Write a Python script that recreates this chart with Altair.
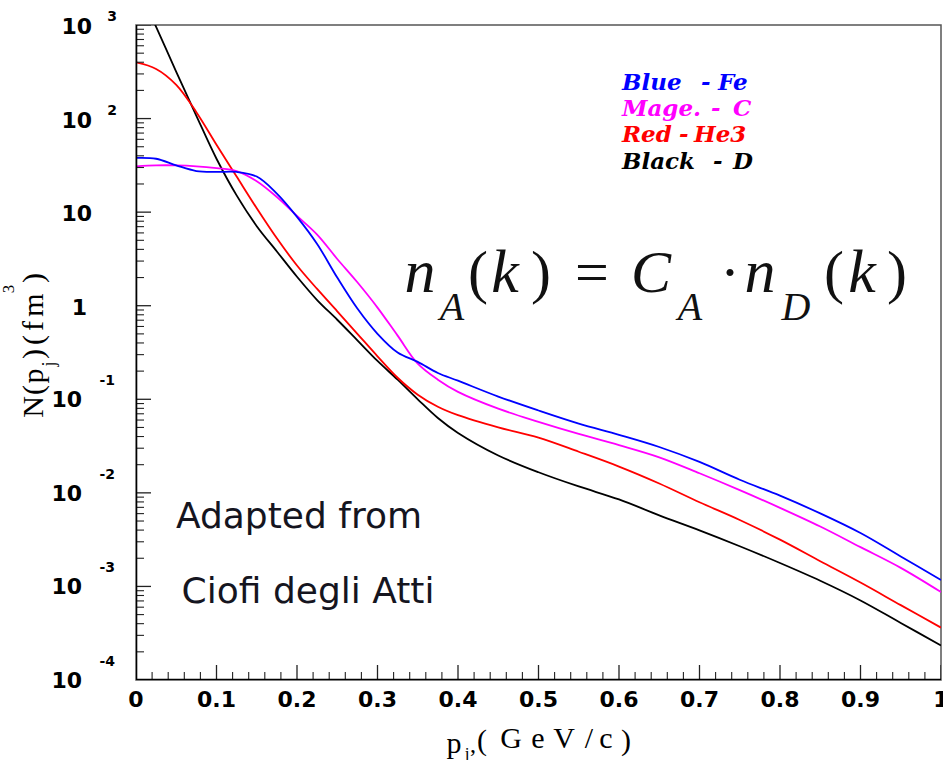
import altair as alt
import pandas as pd

# ---------------- data ----------------
p_values = [0.0, 0.025, 0.05, 0.075, 0.1, 0.125, 0.15, 0.175, 0.2, 0.225, 0.25, 0.275,
            0.3, 0.325, 0.35, 0.375, 0.4, 0.45, 0.5, 0.55, 0.6, 0.65, 0.7, 0.75, 0.8,
            0.85, 0.9, 0.95, 1.0]
fe_values = [38.0, 37.2, 31.6, 27.5, 26.9, 26.9, 24.0, 15.8, 8.91, 4.57, 2.00, 0.933,
             0.501, 0.316, 0.251, 0.191, 0.158, 0.107, 0.0759, 0.0550, 0.0417, 0.0309,
             0.0214, 0.0138, 0.00933, 0.00603, 0.00372, 0.00209, 0.00117]
c_values = [30.9, 31.6, 31.6, 30.9, 29.5, 27.5, 21.4, 14.5, 9.12, 5.75, 3.16, 1.78,
            0.955, 0.479, 0.240, 0.162, 0.120, 0.0794, 0.0575, 0.0427, 0.0324, 0.0240,
            0.0162, 0.0107, 0.00692, 0.00437, 0.00263, 0.00158, 0.000871]
he3_values = [398, 339, 229, 117, 52.5, 24.0, 11.0, 5.25, 2.69, 1.51, 0.871, 0.501,
              0.288, 0.170, 0.112, 0.0832, 0.0676, 0.0501, 0.0389, 0.0275, 0.0191, 0.0126,
              0.00794, 0.00513, 0.00316, 0.00186, 0.00110, 0.000631, 0.000363]
d_values = [2818, 955, 316, 107, 37.2, 15.1, 7.08, 3.80, 2.04, 1.15, 0.708, 0.427,
            0.257, 0.162, 0.100, 0.0631, 0.0437, 0.0251, 0.0166, 0.0117, 0.00851, 0.00575,
            0.00398, 0.00269, 0.00178, 0.00115, 0.000708, 0.000407, 0.000234]

series_names = ["D", "He3", "C", "Fe"]
series_colors = ["#000000", "#ff0000", "#ff00ff", "#0000ff"]

x_major = [0, 0.1, 0.2, 0.3, 0.4, 0.5, 0.6, 0.7, 0.8, 0.9, 1.0]
x_labels = ["0", "0.1", "0.2", "0.3", "0.4", "0.5", "0.6", "0.7", "0.8", "0.9", "1"]
y_exponents = [3, 2, 1, 0, -1, -2, -3, -4]

# ---------------- geometry of the plot ----------------
W, H = 805, 655
LEFT, TOP = 136, 25
XMIN, XMAX = 0.0, 1.0
YMIN_EXP, YMAX_EXP = -4, 3
PX_PER_DECADE = H / (YMAX_EXP - YMIN_EXP)

# ---------------- tables ----------------
rows = []
for name, vals in zip(series_names, [d_values, he3_values, c_values, fe_values]):
    for p, n in zip(p_values, vals):
        rows.append({"p": p, "N": n, "cat": name, "id": name, "sw": 1.8})

x_minor = [round(0.02 * i, 2) for i in range(51) if i % 5 != 0]
y_major = [10.0 ** e for e in y_exponents]
y_minor = [k * 10.0 ** e for e in range(-4, 3) for k in range(2, 10)]

# inward tick marks as short segments placed through the same scales
for kind, vals, length, sw in [("ymaj", y_major, 15, 1.3), ("ymin", y_minor, 8, 1.1)]:
    for i, v in enumerate(vals):
        for pp in (XMIN, XMIN + length / W * (XMAX - XMIN)):
            rows.append({"p": pp, "N": v, "cat": "tick", "id": f"{kind}{i}", "sw": sw})
for kind, vals, length, sw in [("xmaj", x_major, 15, 1.3), ("xmin", x_minor, 8, 1.1)]:
    for i, v in enumerate(vals):
        for nn in (10.0 ** YMIN_EXP, 10.0 ** (YMIN_EXP + length / PX_PER_DECADE)):
            rows.append({"p": v, "N": nn, "cat": "tick", "id": f"{kind}{i}", "sw": sw})
# left and bottom axis lines
for pp, nn in [(XMIN, 10.0 ** YMAX_EXP), (XMIN, 10.0 ** YMIN_EXP)]:
    rows.append({"p": pp, "N": nn, "cat": "frame", "id": "yaxis", "sw": 2.6})
for pp, nn in [(XMIN, 10.0 ** YMIN_EXP), (XMAX, 10.0 ** YMIN_EXP)]:
    rows.append({"p": pp, "N": nn, "cat": "frame", "id": "xaxis", "sw": 2.6})

df = pd.DataFrame(rows)

ylab = pd.DataFrame({"e": y_exponents, "val": y_major})
ylab["sup"] = ylab["e"].astype(str)
xlab = pd.DataFrame({"v": x_major, "lab": x_labels})

xs = alt.Scale(domain=[XMIN, XMAX], nice=False, zero=False)
ys = alt.Scale(type="log", domain=[10.0 ** YMIN_EXP, 10.0 ** YMAX_EXP], nice=False)

TICKFONT = "DejaVu Sans"

lines = alt.Chart(df).mark_line(interpolate="catmull-rom").encode(
    x=alt.X("p:Q", scale=xs, axis=None),
    y=alt.Y("N:Q", scale=ys, axis=None),
    color=alt.Color("cat:N", scale=alt.Scale(
        domain=series_names + ["tick", "frame"],
        range=series_colors + ["#222222", "#000000"]), legend=None),
    strokeWidth=alt.StrokeWidth("sw:Q", scale=None, legend=None),
    detail="id:N",
).transform_filter(
    "datum.N <= 1000 || datum.cat != 'D' || datum.p < 0.03"
)

# the D curve starts above the frame: clip to the plot area
lines = lines.mark_line(interpolate="catmull-rom", clip=True)

# x tick labels
xlabel_layer = alt.Chart(xlab).mark_text(
    font=TICKFONT, fontWeight="bold", fontSize=22, align="center", baseline="middle",
    color="#000000"
).encode(x=alt.X("v:Q", scale=xs, axis=None), y=alt.value(700 - TOP), text="lab:N")


# y tick labels (10 with superscript exponent, ROOT style)
def ylabel_layer(filter_expr, text_field, xpx, size, dy):
    return alt.Chart(ylab).transform_filter(filter_expr).mark_text(
        font=TICKFONT, fontWeight="bold", fontSize=size, align="right",
        baseline="middle", dy=dy, color="#000000"
    ).encode(
        y=alt.Y("val:Q", scale=ys, axis=None),
        x=alt.value(xpx - LEFT),
        text=text_field,
    )


label_layers = [
    xlabel_layer,
    ylabel_layer("datum.e >= 1", alt.value("10"), 92, 22, 2),
    ylabel_layer("datum.e == 0", alt.value("1"), 87, 22, 2),
    ylabel_layer("datum.e < 0", alt.value("10"), 82, 22, 1),
    ylabel_layer("datum.e >= 2", "sup:N", 117, 14, -8),
    ylabel_layer("datum.e < 0", "sup:N", 115, 14, -18),
]

one = pd.DataFrame({"a": [0]})


def txt(s, x, y, size, font, color="#000000", style="normal", weight="normal",
        angle=0, align="center", baseline="alphabetic"):
    return alt.Chart(one).mark_text(
        text=s, font=font, fontSize=size, fontStyle=style, fontWeight=weight,
        color=color, angle=angle, align=align, baseline=baseline
    ).encode(x=alt.value(x - LEFT), y=alt.value(y - TOP))


SERIF = "Liberation Serif"
texts = []

# x axis title: p_j,(GeV/c)
for s, x, y, sz in [("p", 454, 753, 30), ("j", 467, 759, 17), (",", 473, 752, 24),
                    ("(", 482, 750, 30), ("G", 511, 748, 30), ("e", 538, 748, 30),
                    ("V", 564, 748, 30), ("/", 589, 748, 30), ("c", 606, 748, 30),
                    (")", 626, 750, 30)]:
    texts.append(txt(s, x, y, sz, SERIF))

# y axis title: N(p_j) (fm^3), rotated
for s, x, y, sz in [("N", 43, 407, 30), ("(", 43, 390, 30), ("p", 43, 376, 30),
                    ("j", 55, 364, 18), (")", 43, 354, 30), ("(", 43, 340, 30),
                    ("f", 43, 326, 30), ("m", 43, 305, 30), ("3", 14, 289, 17),
                    (")", 43, 278, 30)]:
    texts.append(txt(s, x, y, sz, SERIF, angle=270))

# legend-like labels
LEGFONT = "DejaVu Serif"
for color, words, base in [
    ("#0000ff", [("Blue", 622), ("-", 701), ("Fe", 718)], 90),
    ("#ff00ff", [("Mage.", 622), ("-", 711), ("C", 733)], 116),
    ("#ff0000", [("Red", 622), ("-", 679), ("He3", 694)], 142),
    ("#000000", [("Black", 622), ("-", 713), ("D", 733)], 169),
]:
    for w, lx in words:
        texts.append(txt(w, lx, base, 23, LEGFONT, color=color, style="italic",
                         weight="bold", align="left"))

# formula n_A(k) = C_A . n_D(k)
FCOL = "#111111"
for s, x, y, sz, st in [("n", 420, 292, 62, "italic"), ("A", 452, 320, 40, "italic"),
                        ("(", 478, 292, 60, "normal"), ("k", 505, 292, 62, "italic"),
                        (")", 541, 292, 60, "normal"), ("=", 592, 292, 60, "normal"),
                        ("C", 651, 292, 60, "italic"), ("A", 690, 320, 40, "italic"),
                        ("\u00b7", 730, 292, 60, "normal"), ("n", 760, 292, 62, "italic"),
                        ("D", 796, 320, 40, "italic"), ("(", 834, 292, 60, "normal"),
                        ("k", 862, 292, 62, "italic"), (")", 897, 292, 60, "normal")]:
    texts.append(txt(s, x, y, sz, SERIF, color=FCOL, style=st))

# credit text
texts.append(txt("Adapted from", 299, 528, 36, "DejaVu Sans", color="#15151f"))
texts.append(txt("Ciofi degli Atti", 308, 603, 36, "DejaVu Sans", color="#15151f"))

chart = alt.layer(
    lines, *label_layers, *texts
).properties(
    width=W, height=H,
    padding={"left": LEFT, "top": TOP, "right": 2, "bottom": 80},
    autosize=alt.AutoSizeParams(type="none"),
    background="#ffffff",
).configure_view(
    stroke="#555555", strokeWidth=1.5
)

chart.save("out.html", embed_options={"renderer": "svg", "actions": False})
